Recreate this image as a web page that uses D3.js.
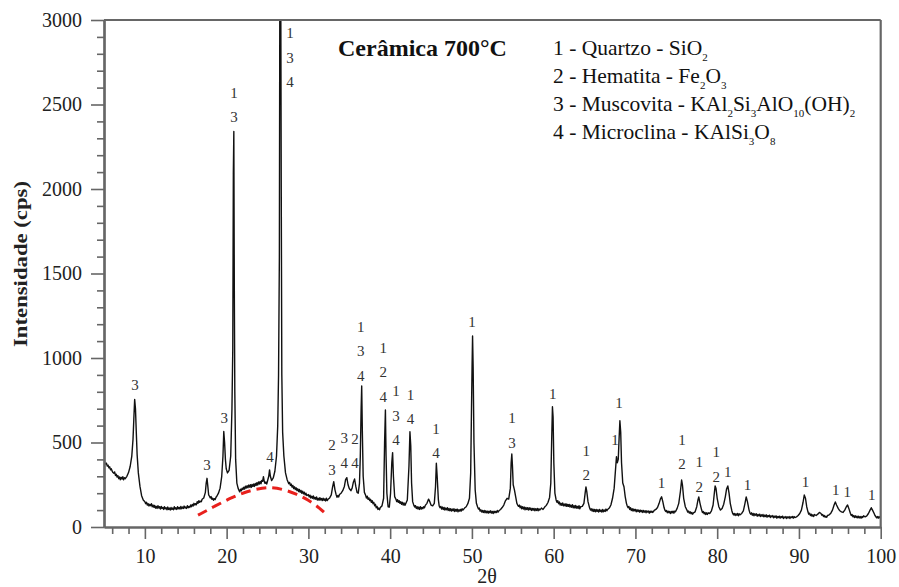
<!DOCTYPE html>
<html><head><meta charset="utf-8">
<script src="https://cdn.jsdelivr.net/npm/d3@7"></script>
<style>body{margin:0;background:#fff}</style>
</head><body>
<svg id="c" width="899" height="587"></svg>
<script>
// XRD pattern: [2θ, intensity (cps)]
const pattern = [
[5.0,395],[5.1,380],[5.2,372],[5.3,378],[5.4,360],[5.5,366],[5.6,350],[5.7,356],[5.8,338],[5.9,344],[6.0,330],[6.1,322],[6.2,318],[6.3,326],[6.4,305],[6.5,312],[6.6,296],[6.7,304],[6.8,286],[6.9,296],[7.0,280],[7.1,294],[7.2,284],[7.3,298],[7.4,279],[7.5,292],[7.6,286],[7.8,300],[8.0,322],[8.2,358],[8.4,420],[8.55,520],[8.65,640],[8.75,755],[8.85,700],[8.95,560],[9.05,430],[9.2,320],[9.4,240],[9.6,185],[9.8,160],
[10.0,150],[10.1,138],[10.2,146],[10.3,130],[10.4,138],[10.5,124],[10.6,134],[10.7,126],[10.8,138],[10.9,120],[11.0,130],[11.1,116],[11.2,128],[11.3,112],[11.4,122],[11.5,110],[11.6,126],[11.7,112],[11.8,120],[11.9,106],[12.0,122],[12.1,110],[12.2,116],[12.3,104],[12.4,120],[12.5,108],[12.6,114],[12.7,102],[12.8,118],[12.9,104],[13.0,112],[13.1,100],[13.2,116],[13.3,104],[13.4,112],[13.5,102],[13.6,120],[13.7,106],[13.8,114],[13.9,104],[14.0,120],[14.1,108],[14.2,116],[14.3,106],[14.4,122],[14.5,108],[14.6,118],[14.7,110],[14.8,124],[14.9,112],[15.0,118],[15.1,110],[15.2,126],[15.3,114],[15.4,122],[15.5,116],[15.6,130],[15.7,120],[15.8,134],[15.9,124],[16.0,140],[16.1,130],[16.2,138],[16.3,132],[16.4,150],[16.5,140],[16.6,156],[16.7,146],[16.8,152],[16.9,150],[17.0,164],[17.2,172],[17.4,205],[17.5,260],[17.6,288],[17.7,240],[17.8,190],[17.9,182],[18.0,172],[18.1,180],[18.2,164],[18.3,170],[18.4,158],[18.5,168],[18.6,162],[18.7,176],[18.8,182],[19.0,200],[19.2,230],[19.4,300],[19.55,420],[19.65,565],[19.75,500],[19.85,400],[19.95,345],
[20.1,320],[20.3,335],[20.5,420],[20.65,700],[20.75,1050],[20.82,2090],[20.88,2340],[20.94,1400],[21.0,800],[21.1,400],[21.25,260],[21.4,230],[21.5,218],[21.6,208],[21.7,224],[21.8,214],[21.9,230],[22.0,222],[22.1,236],[22.2,224],[22.3,242],[22.4,230],[22.5,244],[22.6,232],[22.7,248],[22.8,236],[22.9,250],[23.0,234],[23.1,252],[23.2,240],[23.3,254],[23.4,240],[23.5,258],[23.6,246],[23.7,262],[23.8,248],[23.9,266],[24.0,254],[24.1,270],[24.2,256],[24.3,276],[24.4,270],[24.5,298],[24.6,270],[24.7,258],[24.8,266],[24.9,254],[25.0,272],[25.15,300],[25.25,338],[25.35,300],[25.5,275],[25.7,290],[25.9,330],[26.1,420],[26.25,600],[26.35,900],[26.45,1600],[26.52,3600],[26.6,3600],[26.68,2000],[26.75,900],[26.85,560],[27.0,420],[27.2,320],[27.4,280],[27.5,268],[27.6,256],[27.7,264],[27.8,246],[27.9,254],[28.0,236],[28.1,246],[28.2,228],[28.3,238],[28.4,222],[28.5,232],[28.6,216],[28.7,226],[28.8,210],[28.9,222],[29.0,206],[29.1,216],[29.2,200],[29.3,212],[29.4,196],[29.5,206],[29.6,190],[29.7,200],[29.8,186],
[30.0,192],[30.1,178],[30.2,188],[30.3,172],[30.4,182],[30.5,170],[30.6,184],[30.7,166],[30.8,176],[30.9,164],[31.0,178],[31.1,160],[31.2,170],[31.3,158],[31.4,174],[31.5,160],[31.6,168],[31.7,156],[31.8,170],[31.9,158],[32.0,166],[32.1,154],[32.2,170],[32.3,156],[32.4,164],[32.6,172],[32.8,190],[32.95,235],[33.1,268],[33.25,220],[33.4,190],[33.5,176],[33.6,186],[33.7,178],[33.8,192],[34.0,200],[34.2,215],[34.4,240],[34.55,280],[34.7,292],[34.85,250],[35.0,228],[35.2,215],[35.35,230],[35.5,265],[35.65,284],[35.8,240],[35.95,205],[36.1,200],[36.25,260],[36.35,420],[36.45,700],[36.52,834],[36.6,560],[36.7,300],[36.85,205],[37.0,188],[37.1,172],[37.2,182],[37.3,164],[37.4,172],[37.5,156],[37.6,164],[37.7,146],[37.8,156],[37.9,138],[38.0,146],[38.1,126],[38.2,134],[38.3,114],[38.4,122],[38.5,104],[38.6,112],[38.7,102],[38.8,116],[39.0,125],[39.2,170],[39.32,500],[39.42,692],[39.5,420],[39.6,200],[39.75,120],[39.9,118],
[40.05,200],[40.2,380],[40.3,440],[40.4,300],[40.55,180],[40.7,165],[40.8,150],[40.9,162],[41.0,146],[41.1,156],[41.2,140],[41.3,150],[41.4,134],[41.5,146],[41.6,130],[41.7,142],[41.8,128],[41.9,138],[42.1,160],[42.3,360],[42.42,564],[42.52,480],[42.62,260],[42.75,150],[42.9,128],[43.0,118],[43.1,126],[43.2,110],[43.3,120],[43.4,106],[43.5,118],[43.6,104],[43.7,120],[43.8,106],[43.9,116],[44.0,108],[44.1,120],[44.2,114],[44.3,128],[44.5,140],[44.7,165],[44.85,150],[45.0,130],[45.2,125],[45.4,140],[45.55,240],[45.65,377],[45.75,300],[45.9,160],[46.0,124],[46.1,114],[46.2,122],[46.3,106],[46.4,118],[46.5,104],[46.6,116],[46.7,100],[46.8,112],[46.9,102],[47.0,114],[47.1,98],[47.2,110],[47.3,96],[47.4,108],[47.5,94],[47.6,106],[47.7,96],[47.8,108],[47.9,92],[48.0,104],[48.1,94],[48.2,106],[48.3,90],[48.4,102],[48.5,94],[48.6,104],[48.7,94],[48.8,108],[48.9,100],[49.1,112],[49.3,120],[49.5,138],[49.7,170],[49.85,320],[49.95,700],
[50.02,948],[50.08,1130],[50.15,950],[50.25,500],[50.4,220],[50.55,140],[50.7,118],[50.8,106],[50.9,112],[51.0,94],[51.1,102],[51.2,88],[51.3,98],[51.4,86],[51.5,98],[51.6,84],[51.7,96],[51.8,84],[51.9,94],[52.0,82],[52.1,94],[52.2,84],[52.3,96],[52.4,82],[52.5,92],[52.6,80],[52.7,94],[52.8,84],[52.9,92],[53.0,86],[53.1,98],[53.2,88],[53.3,96],[53.5,104],[53.7,115],[53.9,130],[54.1,155],[54.3,170],[54.5,165],[54.7,230],[54.8,380],[54.88,432],[54.96,360],[55.05,250],[55.2,220],[55.35,180],[55.5,140],[55.6,130],[55.7,122],[55.8,130],[55.9,114],[56.0,124],[56.1,108],[56.2,120],[56.3,106],[56.4,118],[56.5,102],[56.6,116],[56.7,104],[56.8,114],[56.9,100],[57.0,114],[57.1,102],[57.2,112],[57.3,98],[57.4,110],[57.5,100],[57.6,110],[57.7,96],[57.8,108],[57.9,98],[58.0,110],[58.1,96],[58.2,108],[58.3,100],[58.5,112],[58.7,104],[58.9,118],[59.1,128],[59.3,145],[59.5,175],[59.65,260],[59.75,500],[59.85,712],[59.93,650],
[60.02,380],[60.15,200],[60.3,160],[60.4,146],[60.5,156],[60.6,138],[60.7,148],[60.8,130],[60.9,140],[61.0,128],[61.1,142],[61.2,126],[61.3,136],[61.4,124],[61.5,138],[61.6,122],[61.7,134],[61.8,122],[61.9,134],[62.0,118],[62.1,130],[62.2,116],[62.3,132],[62.4,114],[62.5,126],[62.6,112],[62.7,128],[62.8,112],[62.9,122],[63.0,110],[63.1,126],[63.2,108],[63.3,120],[63.5,122],[63.7,140],[63.85,200],[63.95,237],[64.05,210],[64.2,150],[64.4,112],[64.5,100],[64.6,108],[64.7,94],[64.8,106],[64.9,92],[65.0,104],[65.1,90],[65.2,104],[65.3,92],[65.4,102],[65.5,88],[65.6,104],[65.7,92],[65.8,100],[65.9,88],[66.0,104],[66.1,90],[66.2,100],[66.3,92],[66.4,106],[66.5,96],[66.6,104],[66.8,112],[67.0,130],[67.2,170],[67.4,230],[67.55,330],[67.68,416],[67.78,380],[67.9,400],[68.0,520],[68.1,629],[68.2,560],[68.3,380],[68.45,260],[68.6,238],[68.75,180],[68.9,140],[69.0,124],[69.1,114],[69.2,122],[69.3,104],[69.4,114],[69.5,98],[69.6,108],[69.7,94],[69.8,106],[69.9,96],
[70.0,104],[70.1,90],[70.2,102],[70.3,92],[70.4,100],[70.5,88],[70.6,100],[70.7,90],[70.8,98],[70.9,86],[71.0,98],[71.1,88],[71.2,96],[71.3,84],[71.4,96],[71.5,88],[71.6,94],[71.7,82],[71.8,94],[71.9,86],[72.0,94],[72.1,86],[72.3,98],[72.5,104],[72.7,115],[72.9,140],[73.05,165],[73.2,179],[73.35,150],[73.5,115],[73.6,100],[73.7,92],[73.8,98],[73.9,84],[74.0,94],[74.1,84],[74.2,92],[74.3,80],[74.4,92],[74.5,84],[74.6,94],[74.7,82],[74.8,94],[74.9,90],[75.1,110],[75.3,140],[75.5,210],[75.65,278],[75.75,250],[75.9,170],[76.1,120],[76.3,100],[76.4,88],[76.5,94],[76.6,82],[76.7,90],[76.8,78],[76.9,86],[77.0,76],[77.1,84],[77.3,90],[77.5,120],[77.65,160],[77.75,178],[77.9,140],[78.1,100],[78.2,86],[78.3,92],[78.4,78],[78.5,86],[78.6,74],[78.7,84],[78.8,74],[78.9,84],[79.1,80],[79.3,96],[79.5,130],[79.65,200],[79.75,243],[79.85,230],
[80.0,170],[80.2,120],[80.4,100],[80.6,110],[80.8,135],[81.0,180],[81.15,225],[81.3,243],[81.45,200],[81.6,140],[81.8,95],[81.9,80],[82.0,72],[82.1,80],[82.2,68],[82.3,78],[82.4,70],[82.5,80],[82.6,66],[82.7,78],[82.8,72],[83.0,80],[83.2,95],[83.4,140],[83.55,178],[83.7,150],[83.9,100],[84.0,84],[84.1,76],[84.2,84],[84.3,70],[84.4,80],[84.5,66],[84.6,78],[84.7,70],[84.8,78],[84.9,64],[85.0,74],[85.1,66],[85.2,76],[85.3,62],[85.4,72],[85.5,64],[85.6,74],[85.7,60],[85.8,70],[85.9,62],[86.0,72],[86.1,58],[86.2,68],[86.3,62],[86.4,70],[86.5,56],[86.6,66],[86.7,60],[86.8,68],[86.9,54],[87.0,64],[87.1,58],[87.2,66],[87.3,52],[87.4,62],[87.5,56],[87.6,64],[87.7,52],[87.8,62],[87.9,56],[88.0,64],[88.1,50],[88.2,60],[88.3,54],[88.4,62],[88.5,50],[88.6,60],[88.7,54],[88.8,62],[88.9,50],[89.0,60],[89.1,56],[89.2,62],[89.3,52],[89.4,62],[89.5,56],[89.7,60],[89.9,68],
[90.1,80],[90.3,100],[90.5,145],[90.65,189],[90.8,170],[90.95,120],[91.1,90],[91.2,76],[91.3,82],[91.4,68],[91.5,76],[91.6,64],[91.7,72],[91.8,62],[91.9,74],[92.1,68],[92.3,76],[92.5,86],[92.7,80],[92.8,70],[92.9,74],[93.0,62],[93.1,68],[93.2,58],[93.3,64],[93.4,58],[93.5,68],[93.7,72],[93.9,82],[94.1,100],[94.3,130],[94.45,148],[94.6,130],[94.8,110],[95.0,96],[95.2,90],[95.4,86],[95.6,100],[95.8,120],[95.95,130],[96.1,110],[96.3,80],[96.4,68],[96.5,74],[96.6,60],[96.7,68],[96.8,56],[96.9,66],[97.0,56],[97.1,64],[97.2,54],[97.3,64],[97.4,54],[97.5,62],[97.6,52],[97.7,62],[97.8,56],[97.9,66],[98.1,60],[98.3,66],[98.5,80],[98.7,100],[98.85,114],[99.0,100],[99.2,80],[99.3,68],[99.4,62],[99.5,54],[99.6,62],[99.7,52],[99.8,62],[99.9,54],[100.0,58]
];

// amorphous halo (red dashed) [2θ, cps]
const halo = [[16.5,70],[18.5,122],[20.5,172],[22.5,212],[24.5,232],[25.5,234],[27.0,222],[28.5,196],[30.0,160],[31.4,112],[32.4,65]];

const xMajor = [10,20,30,40,50,60,70,80,90,100];
const xMinor = [6,8,12,14,16,18,22,24,26,28,32,34,36,38,42,44,46,48,52,54,56,58,62,64,66,68,72,74,76,78,82,84,86,88,92,94,96,98];
const yMajor = [0,500,1000,1500,2000,2500,3000];
const yMinor = [100,200,300,400,600,700,800,900,1100,1200,1300,1400,1600,1700,1800,1900,2100,2200,2300,2400,2600,2700,2800,2900];

// phase labels: 2θ position, stacked numbers (top to bottom), cps level of the lowest number
const peakLabels = [
 {x:8.8, lines:["3"], at:810},
 {x:17.6, lines:["3"], at:337},
 {x:19.7, lines:["3"], at:615},
 {x:20.9, lines:["1","3"], at:2396},
 {x:25.3, lines:["4"], at:385},
 {x:27.75, lines:["1","3","4"], at:2603},
 {x:32.9, lines:["2","3"], at:308},
 {x:34.4, lines:["3","4"], at:351},
 {x:35.7, lines:["2","4"], at:349},
 {x:36.4, lines:["1","3","4"], at:864},
 {x:39.15, lines:["1","2","4"], at:741},
 {x:40.7, lines:["1","3","4"], at:485},
 {x:42.5, lines:["1","4"], at:608},
 {x:45.6, lines:["1","4"], at:406},
 {x:50.0, lines:["1"], at:1185},
 {x:54.9, lines:["1","3"], at:469},
 {x:59.9, lines:["1"], at:755},
 {x:64.0, lines:["1","2"], at:278},
 {x:67.5, lines:["1"], at:485},
 {x:68.0, lines:["1"], at:702},
 {x:73.2, lines:["1"], at:229},
 {x:75.7, lines:["1","2"], at:343},
 {x:77.8, lines:["1","2"], at:209},
 {x:79.9, lines:["1","2"], at:268},
 {x:81.3, lines:["1"], at:298},
 {x:83.7, lines:["1"], at:219},
 {x:90.8, lines:["1"], at:238},
 {x:94.5, lines:["1"], at:189},
 {x:95.9, lines:["1"], at:179},
 {x:98.9, lines:["1"], at:160}
];

const titleText = "Cerâmica 700°C";
// legend: segments [text, isSubscript]
const legendLines = [
 [["1 - Quartzo - SiO",0],["2",1]],
 [["2 - Hematita - Fe",0],["2",1],["O",0],["3",1]],
 [["3 - Muscovita - KAl",0],["2",1],["Si",0],["3",1],["AlO",0],["10",1],["(OH)",0],["2",1]],
 [["4 - Microclina - KAlSi",0],["3",1],["O",0],["8",1]]
];
const xTitle = "2θ";
const yTitle = "Intensidade (cps)";

const svg = d3.select("#c");
const serif = "'Liberation Serif','Times New Roman',serif";
const x = d3.scaleLinear().domain([5,100]).range([104,880.7]);
const y = d3.scaleLinear().domain([0,3000]).range([527,20]);
const axisCol = "#666";

svg.append("defs").append("clipPath").attr("id","clip")
  .append("rect").attr("x",x(5)).attr("y",y(3000)).attr("width",x(100)-x(5)).attr("height",y(0)-y(3000));

// halo
svg.append("path").datum(halo)
  .attr("d", d3.line().x(d=>x(d[0])).y(d=>y(d[1])).curve(d3.curveBasis))
  .attr("fill","none").attr("stroke","#e8201c").attr("stroke-width",3).attr("stroke-dasharray","10,6");

// pattern
svg.append("path").datum(pattern).attr("clip-path","url(#clip)")
  .attr("d", d3.line().x(d=>x(d[0])).y(d=>y(d[1])))
  .attr("fill","none").attr("stroke","#111").attr("stroke-width",1.4).attr("stroke-linejoin","round");

// axes
function styleAxis(g){
  g.select(".domain").attr("stroke",axisCol).attr("stroke-width",2.2);
  g.selectAll(".tick line").attr("stroke",axisCol).attr("stroke-width",1.6);
  g.selectAll("text").attr("font-family",serif).attr("font-size",20).attr("fill","#222");
}
const gxMinor = svg.append("g").attr("transform",`translate(0,${y(0)})`)
  .call(d3.axisBottom(x).tickValues(xMinor).tickSize(7).tickSizeOuter(0).tickFormat(""));
styleAxis(gxMinor);
const gx = svg.append("g").attr("transform",`translate(0,${y(0)})`)
  .call(d3.axisBottom(x).tickValues(xMajor).tickSize(12).tickSizeOuter(0).tickPadding(10).tickFormat(d3.format("d")));
styleAxis(gx);
const gyMinor = svg.append("g").attr("transform",`translate(${x(5)},0)`)
  .call(d3.axisLeft(y).tickValues(yMinor).tickSize(7).tickSizeOuter(0).tickFormat(""));
styleAxis(gyMinor);
const gy = svg.append("g").attr("transform",`translate(${x(5)},0)`)
  .call(d3.axisLeft(y).tickValues(yMajor).tickSize(13).tickSizeOuter(0).tickPadding(9).tickFormat(d3.format("d")));
styleAxis(gy);

// frame top & right
svg.append("line").attr("x1",x(5)).attr("x2",x(100)).attr("y1",y(3000)).attr("y2",y(3000))
  .attr("stroke",axisCol).attr("stroke-width",2.2);
svg.append("line").attr("x1",x(100)).attr("x2",x(100)).attr("y1",y(3000)).attr("y2",y(0))
  .attr("stroke",axisCol).attr("stroke-width",2.2);

// peak labels
const lg = svg.append("g").attr("font-family",serif).attr("font-size",15).attr("fill","#333").attr("text-anchor","middle");
peakLabels.forEach(p=>{
  const n = p.lines.length;
  p.lines.forEach((t,i)=>{
    lg.append("text").attr("x",x(p.x)).attr("y",y(p.at)-(n-1-i)*24.5).text(t);
  });
});

// title
svg.append("text").attr("x",338).attr("y",56).attr("font-family",serif).attr("font-weight","bold")
  .attr("font-size",24).attr("fill","#111").text(titleText);

// legend
legendLines.forEach((segs,i)=>{
  const t = svg.append("text").attr("x",553).attr("y",55+i*28).attr("font-family",serif)
    .attr("font-size",21.5).attr("fill","#111");
  let sub=false;
  segs.forEach(([s,isSub])=>{
    const ts = t.append("tspan").text(s);
    if(isSub && !sub){ ts.attr("dy",6).attr("font-size",11); sub=true; }
    else if(isSub && sub){ ts.attr("font-size",11); }
    else if(!isSub && sub){ ts.attr("dy",-6); sub=false; }
  });
});

// axis titles
svg.append("text").attr("x",487).attr("y",583).attr("text-anchor","middle")
  .attr("font-family",serif).attr("font-size",20).attr("fill","#222").text(xTitle);
svg.append("text").attr("transform","translate(27,264) rotate(-90)").attr("text-anchor","middle")
  .attr("font-family",serif).attr("font-weight","bold").attr("font-size",19).attr("fill","#222")
  .attr("textLength",166).attr("lengthAdjust","spacingAndGlyphs").text(yTitle);
</script>
</body></html>
